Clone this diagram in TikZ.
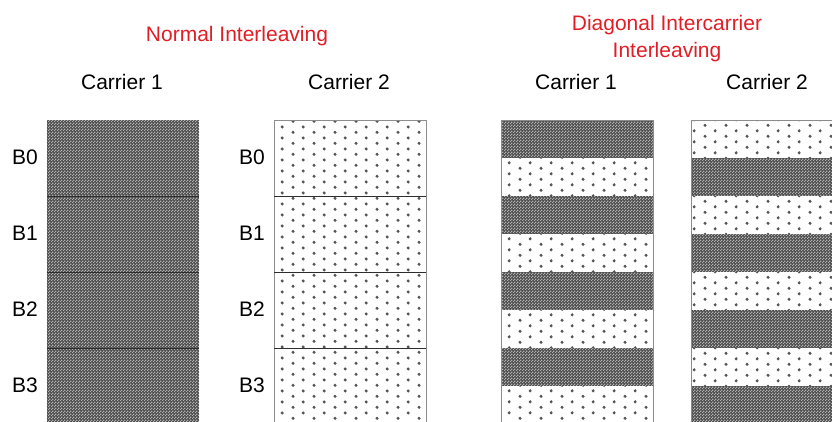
\documentclass[tikz,border=0pt]{standalone}
\usepackage{fontspec}
\setmainfont{Liberation Sans}
\usetikzlibrary{patterns.meta}
\definecolor{titlered}{RGB}{225,30,38}
\definecolor{darkbase}{RGB}{78,78,78}
\definecolor{darklite}{RGB}{175,175,175}
\definecolor{dotgray}{RGB}{85,85,85}
\definecolor{framegray}{RGB}{140,140,140}
\definecolor{linedark}{RGB}{45,45,45}
\tikzdeclarepattern{
  name=checks,
  type=uncolored,
  bottom left={(0pt,0pt)},
  top right={(3pt,3pt)},
  tile size={(3pt,3pt)},
  code={\pgfpathrectangle{\pgfpoint{0pt}{0pt}}{\pgfpoint{1.5pt}{1.5pt}}\pgfpathrectangle{\pgfpoint{1.5pt}{1.5pt}}{\pgfpoint{1.5pt}{1.5pt}}\pgfusepath{fill}}
}
\tikzdeclarepattern{
  name=hexdots,
  type=uncolored,
  bottom left={(0pt,0pt)},
  top right={(20.6pt,10.86pt)},
  tile size={(20.6pt,10.86pt)},
  code={\pgfpathcircle{\pgfpoint{5.15pt}{2.715pt}}{1.7pt}\pgfpathcircle{\pgfpoint{15.45pt}{8.145pt}}{1.7pt}\pgfusepath{fill}}
}
\tikzset{
  darkcell/.style={fill=darkbase, postaction={pattern=checks, pattern color=darklite}},
  dotcell/.style={fill=white, postaction={pattern=hexdots, pattern color=dotgray}},
  divider/.style={draw=linedark, line width=1pt},
  frame/.style={draw=framegray, line width=0.8pt},
  lbl/.style={font=\fontsize{21}{27}\selectfont, text=black, inner sep=0pt},
  ttl/.style={font=\fontsize{21}{27}\selectfont, text=titlered, inner sep=0pt, align=center},
}
\begin{document}
\begin{tikzpicture}[x=1pt,y=-1pt]
\clip (0,0) rectangle (832,421);
\fill[white] (0,0) rectangle (832,421);
% titles
\node[ttl] (ntitle) at (237,36) {Normal Interleaving};
\node[ttl] (dtitle) at (667,38.5) {Diagonal Intercarrier\\Interleaving};
\node[lbl] (nc1) at (122,82) {Carrier 1};
\node[lbl] (nc2) at (349,82) {Carrier 2};
\node[lbl] (dc1) at (576,82) {Carrier 1};
\node[lbl] (dc2) at (767,82) {Carrier 2};
% normal carrier 1
\foreach \i in {0,...,3}{
  \path[darkcell] (47,120+76*\i) rectangle (199,196+76*\i);
}
\foreach \i in {1,2,3}{
  \draw[divider] (47,120+76*\i) -- (199,120+76*\i);
}
% normal carrier 2
\path[dotcell] (274,120) rectangle (426,430);
\draw[frame] (274,430) -- (274,120) -- (426,120) -- (426,430);
\foreach \i in {1,2,3}{
  \draw[divider] (274,120+76*\i) -- (426,120+76*\i);
}
% block labels
\foreach \i/\t in {0/B0,1/B1,2/B2,3/B3}{
  \node[lbl] (la\t) at (25,157+76*\i) {\t};
  \node[lbl] (lb\t) at (252,157+76*\i) {\t};
}
% diagonal carrier 1
\foreach \i in {0,...,7}{
  \pgfmathtruncatemacro{\parity}{mod(\i,2)}
  \ifnum\parity=0
    \path[darkcell] (501,120+38*\i) rectangle (653,158+38*\i);
  \else
    \path[dotcell] (501,120+38*\i) rectangle (653,158+38*\i);
  \fi
}
\draw[frame] (501,430) -- (501,120) -- (653,120) -- (653,430);
% diagonal carrier 2
\foreach \i in {0,...,7}{
  \pgfmathtruncatemacro{\parity}{mod(\i,2)}
  \ifnum\parity=0
    \path[dotcell] (691,120+38*\i) rectangle (850,158+38*\i);
  \else
    \path[darkcell] (691,120+38*\i) rectangle (850,158+38*\i);
  \fi
}
\draw[frame] (691,430) -- (691,120) -- (850,120);
\end{tikzpicture}
\end{document}
